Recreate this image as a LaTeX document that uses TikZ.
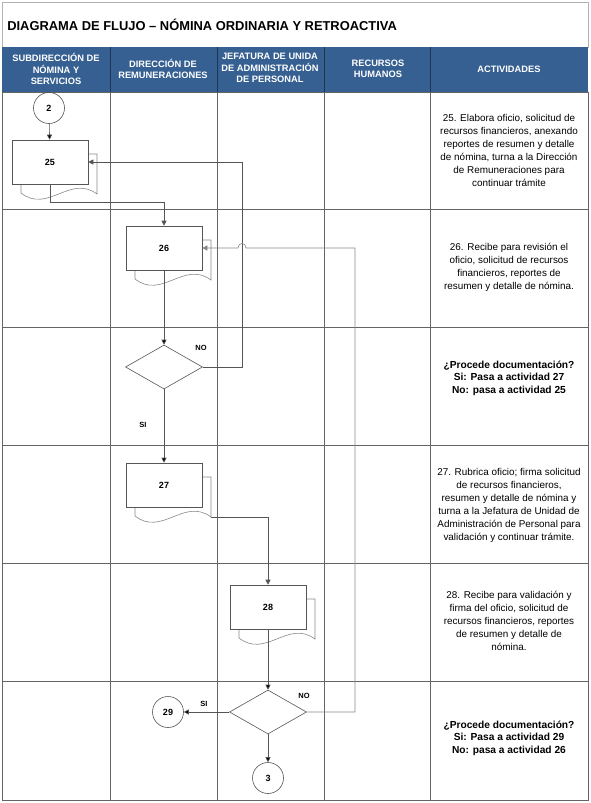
\documentclass[tikz,border=0pt]{standalone}
\usepackage{fontspec}
\setmainfont{Liberation Sans}
\usetikzlibrary{shapes.geometric,arrows.meta,positioning}
\definecolor{hdrblue}{RGB}{54,96,146}
\definecolor{gridgray}{RGB}{100,100,100}
\definecolor{linegray}{RGB}{85,85,85}
\definecolor{pagegray}{RGB}{135,135,135}

\begin{document}
\begin{tikzpicture}[x=1pt,y=-1pt,line width=0.6pt,every node/.style={inner sep=0pt}]
    \tikzset{box/.style={draw=linegray,fill=white,minimum width=76pt,minimum height=44pt,font=\bfseries\fontsize{9}{10}\selectfont}};
    \tikzset{dec/.style={draw=linegray,diamond,minimum width=77pt,minimum height=44pt}};
    \tikzset{con/.style={draw=linegray,circle,minimum size=31pt,font=\bfseries\fontsize{9}{10}\selectfont}};
    \tikzset{flow/.style={draw=linegray,-{Triangle[length=5pt,width=5pt]}}};
    \tikzset{grid/.style={draw=gridgray}};
    \tikzset{lbl/.style={font=\bfseries\fontsize{7.5}{9}\selectfont}};
    \tikzset{act/.style={align=center,font=\fontsize{9.9}{13}\selectfont}};
    \tikzset{actq/.style={align=center,font=\bfseries\fontsize{10.2}{12.5}\selectfont}};
    \tikzset{hdr/.style={align=center,text=white,font=\bfseries\fontsize{9.3}{11.3}\selectfont}};
    \tikzset{docpage/.pic={
        \draw[pagegray] (38,-8) -- (47,-8) -- (47,32) .. controls (20,12) and (-2,52) .. (-29,31) -- (-29,22);
        \coordinate (-br) at (47,32);
    }};
    \useasboundingbox (0,0) rectangle (590,803);

    % title and header
    \draw[draw=gray!60] (2,2) rectangle (588,47);
    \node[anchor=west,font=\bfseries\fontsize{12.9}{14}\selectfont] (title) at (7,25) {DIAGRAMA DE FLUJO -- NÓMINA ORDINARIA Y RETROACTIVA};
    \fill[hdrblue] (2,47) rectangle (588,92);
    \foreach \x in {110,217,324,430} \draw[hdrblue!55!black] (\x,47) -- (\x,92);
    \node[hdr] (hSub) at (56,69) {SUBDIRECCIÓN DE\\NÓMINA Y\\SERVICIOS};
    \node[hdr] (hDir) at (163,69) {DIRECCIÓN DE\\REMUNERACIONES};
    \node[hdr] (hJef) at (270,68) {JEFATURA DE UNIDA\\DE ADMINISTRACIÓN\\DE PERSONAL};
    \node[hdr] (hRec) at (378,69) {RECURSOS\\HUMANOS};
    \node[hdr] (hAct) at (509,69) {ACTIVIDADES};

    % lanes
    \draw[grid] (2,92) rectangle (588,800);
    \foreach \y in {209,327,445,563,681} \draw[grid] (2,\y) -- (588,\y);
    \foreach \x in {110,217,324,430} \draw[grid] (\x,92) -- (\x,800);

    % flow
    \node[con] (sC2) at (49,108) {2};
    \pic (sP25) at (50,162) {docpage};
    \node[box] (sD25) at (50,162) {25};
    \pic (sP26) at (164,248) {docpage};
    \node[box] (sD26) at (164,248) {26};
    \node[dec] (sQ1) at (164,367) {};
    \pic (sP27) at (164,485) {docpage};
    \node[box] (sD27) at (164,485) {27};
    \pic (sP28) at (268,607) {docpage};
    \node[box] (sD28) at (268,607) {28};
    \node[dec] (sQ2) at (268,712) {};
    \node[con] (sC29) at (168,712) {29};
    \node[con] (sC3) at (268,778) {3};

    \node[lbl] (lNo1) at (201,348) {NO};
    \node[lbl] (lSi1) at (143,425) {SI};
    \node[lbl] (lNo2) at (304,696) {NO};
    \node[lbl] (lSi2) at (204,704) {SI};
    {
       \path[flow]
        (sC2) edge (sD25)
        (sD26) edge (sQ1)
        (sQ1) edge (sD27)
        (sD28) edge (sQ2)
        (sQ2) edge (sC29)
        (sQ2) edge (sC3)
        ;
    }
    \draw[flow] (sD25.south) -- (50,202) -| (sD26.north);
    \draw[flow] (sQ1.east) -- (242,367) |- (sD25.east);
    \draw[flow] (sP27-br) -| (sD28.north);
    \draw[flow,draw=pagegray] (sQ2.east) -| (355,248) -- (246,248) .. controls (246,242) and (238,242) .. (238,248) -- (sD26.east);

    % activities
    \node[act] (t25) at (509,150) {25. Elabora oficio, solicitud de\\recursos financieros, anexando\\reportes de resumen y detalle\\de nómina, turna a la Dirección\\de Remuneraciones para\\continuar trámite};
    \node[act] (t26) at (509,267) {26. Recibe para revisión el\\oficio, solicitud de recursos\\financieros, reportes de\\resumen y detalle de nómina.};
    \node[actq] (t26q) at (509,378) {¿Procede documentación?\\Si: Pasa a actividad 27\\No: pasa a actividad 25};
    \node[act] (t27) at (509,505) {27. Rubrica oficio; firma solicitud\\de recursos financieros,\\resumen y detalle de nómina y\\turna a la Jefatura de Unidad de\\Administración de Personal para\\validación y continuar trámite.};
    \node[act] (t28) at (509,621) {28. Recibe para validación y\\firma del oficio, solicitud de\\recursos financieros, reportes\\de resumen y detalle de\\nómina.};
    \node[actq] (t28q) at (509,738) {¿Procede documentación?\\Si: Pasa a actividad 29\\No: pasa a actividad 26};
\end{tikzpicture}
\end{document}
